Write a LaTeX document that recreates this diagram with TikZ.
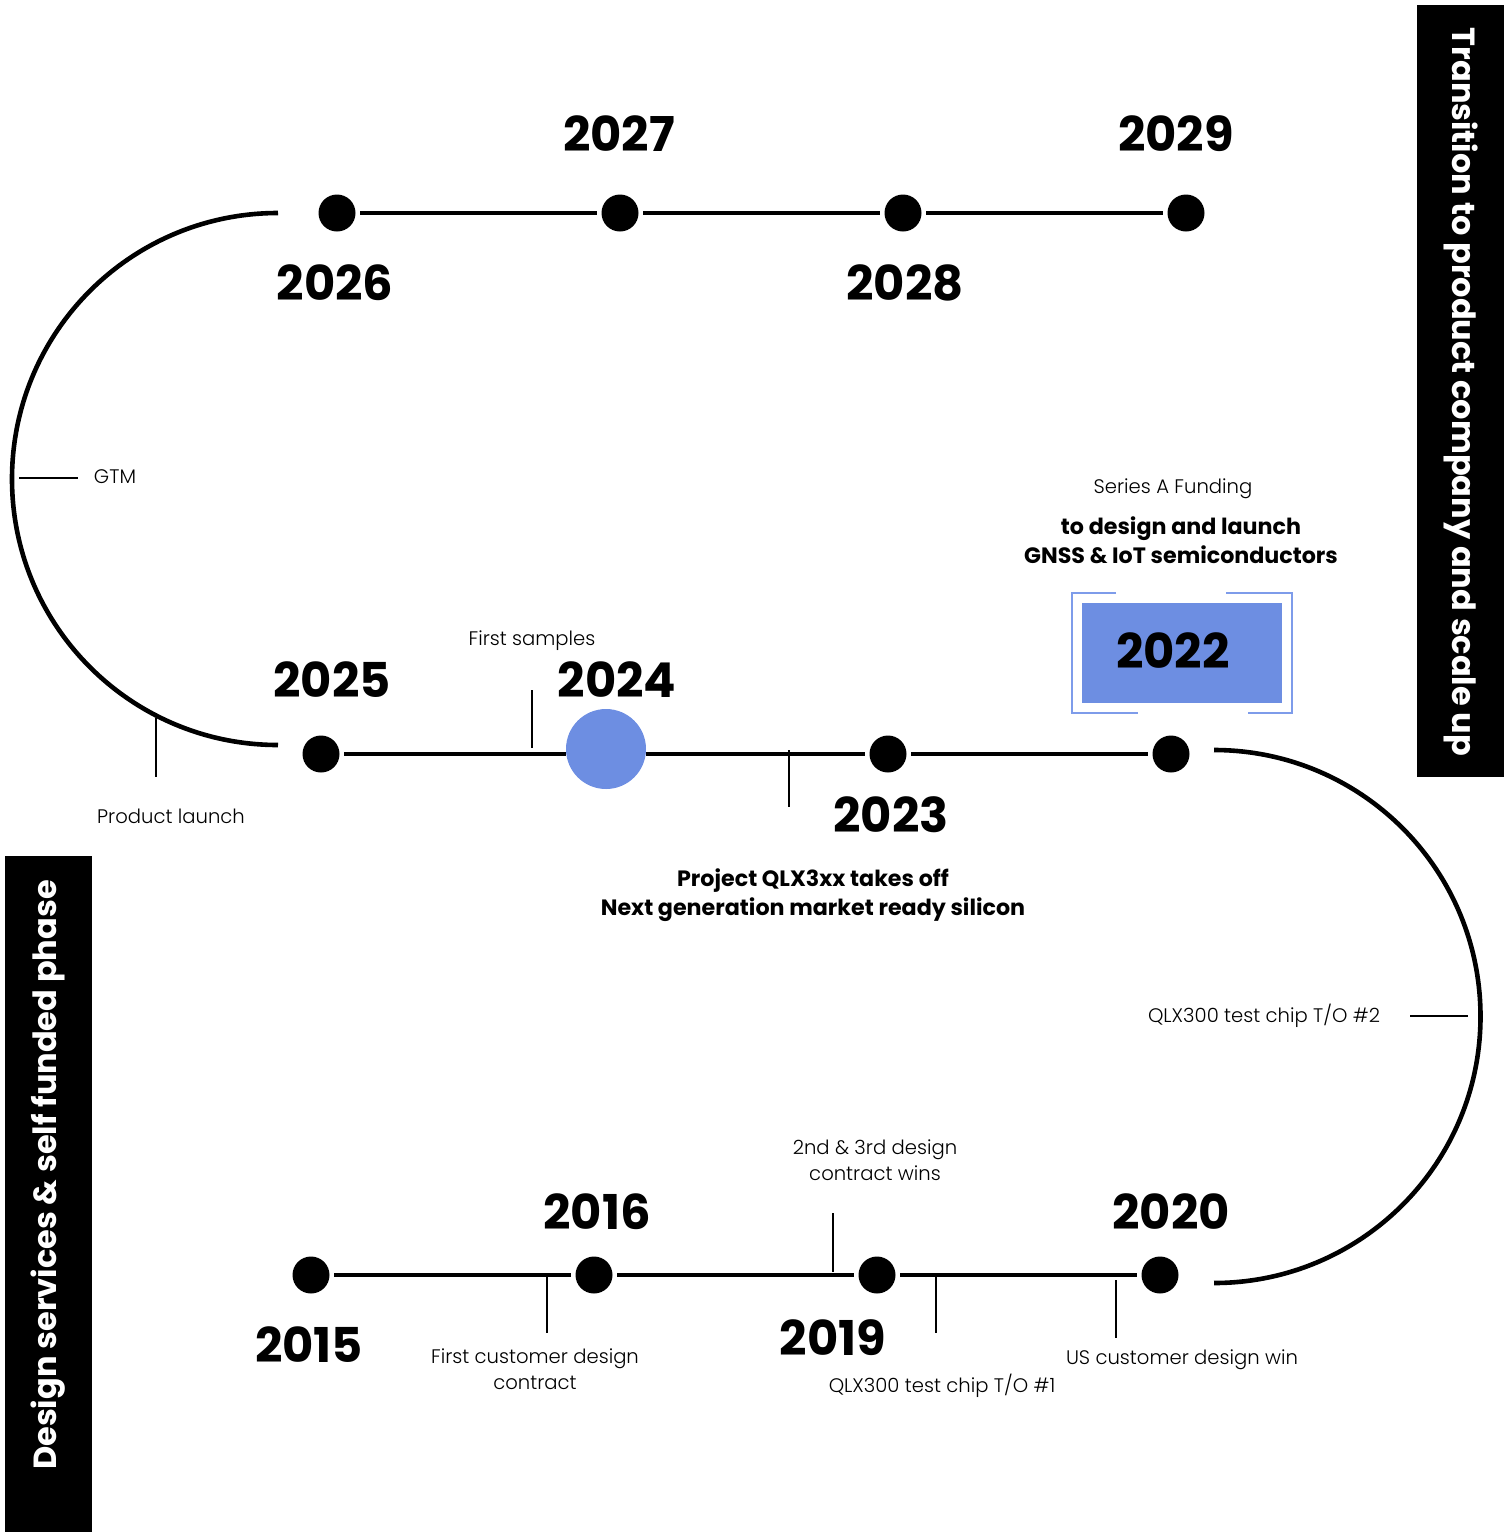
\documentclass[tikz,border=0pt]{standalone}
\usepackage{fontspec}
\setmainfont{Poppins}
\newfontfamily\lightfont{Poppins Light}
\usetikzlibrary{positioning}

\definecolor{qblue}{HTML}{6D8EE2}
\definecolor{qframe}{HTML}{7E9CEA}

\tikzset{
  dot/.style={circle, fill=black, minimum size=37pt, inner sep=0pt, outer sep=4.5pt},
  tl/.style={line width=4.6pt},
  tick/.style={line width=1.6pt},
  year/.style={font=\bfseries\fontsize{48}{48}\selectfont, inner sep=0pt},
  note/.style={font=\lightfont\fontsize{19.6}{26}\selectfont, align=center, inner sep=0pt},
  bnote/.style={font=\bfseries\fontsize{22.2}{29}\selectfont, align=center, inner sep=0pt},
  side/.style={text=white, font=\bfseries\fontsize{32}{32}\selectfont, inner sep=0pt}
}

\begin{document}
\begin{tikzpicture}[x=1pt, y=-1pt]
             \useasboundingbox (0,0) rectangle (1504,1532);

             \fill (1417,5) rectangle (1504,777);
             \node[side, rotate=-90] (phase2) at (1461,392) {Transition to product company and scale up};
             \fill (5,856) rectangle (92,1532);
             \node[side, rotate=90] (phase1) at (48,1175) {Design services \& self funded phase};

             \node[dot] (d26) at (337,213) {};
             \node[dot] (d27) at (620,213) {};
             \node[dot] (d28) at (903,213) {};
             \node[dot] (d29) at (1186,213) {};
             \draw[tl] (d26) -- (d27);
             \draw[tl] (d27) -- (d28);
             \draw[tl] (d28) -- (d29);
             \node[year] (y27) at (619,134) {2027};
             \node[year] (y29) at (1176,134) {2029};
             \node[year] (y26) at (335,283) {2026};
             \node[year] (y28) at (905,283) {2028};

             \coordinate (a26) at (278,213);
             \draw[tl] (a26) arc[start angle=-90, end angle=-270, radius=266];
             \draw[tick] (19,478) -- (78,478);
             \node[note] (gtm) at (115,477) {GTM};
             \draw[tick] (156,718) -- (156,777);
             \node[note] (launch) at (171,816) {Product launch};

             \node[dot] (d25) at (321,754) {};
             \node[circle, fill=qblue, minimum size=80pt, inner sep=0pt] (b24) at (606,749) {};
             \node[dot] (d23) at (888,754) {};
             \node[dot] (d22) at (1171,754) {};
             \draw[tl] (d25) -- (d25 -| b24.west);
             \draw[tl] (b24.east |- d23) -- (d23);
             \draw[tl] (d23) -- (d22);
             \node[year] (y25) at (332,680) {2025};
             \node[year] (y24) at (617,680) {2024};
             \node[year] (y23) at (891,815) {2023};
             \draw[tick] (532,690) -- (532,748);
             \node[note] (samples) at (532,641) {First samples};
             \draw[tick] (789,750) -- (789,807);
             \node[bnote] (qlx3) at (813,895) {Project QLX3xx takes off\\Next generation market ready silicon};

             \node[fill=qblue, minimum width=200pt, minimum height=100pt, inner sep=0pt] (box22) at (1182,653) {};
             \draw[qframe, line width=2.2pt] (1116,593) -| (1072,713) -- (1138,713);
             \draw[qframe, line width=2.2pt] (1226,593) -| (1292,713) -- (1248,713);
             \node[year] (y22) at (1173,651) {2022};
             \node[note] (series) at (1173,489) {Series A Funding};
             \node[bnote] (gnss) at (1181,540) {to design and launch\\GNSS \& IoT semiconductors};

             \coordinate (a22) at (1214,750);
             \draw[tl] (a22) arc[start angle=-90, end angle=90, radius=266.5];
             \draw[tick] (1410,1016) -- (1468,1016);
             \node[note] (to2) at (1264,1016) {QLX300 test chip T/O \#2};

             \node[dot] (d15) at (311,1275) {};
             \node[dot] (d16) at (594,1275) {};
             \node[dot] (d19) at (877,1275) {};
             \node[dot] (d20) at (1160,1275) {};
             \draw[tl] (d15) -- (d16);
             \draw[tl] (d16) -- (d19);
             \draw[tl] (d19) -- (d20);
             \node[year] (y16) at (597,1212) {2016};
             \node[year] (y20) at (1171,1212) {2020};
             \node[year] (y15) at (309,1345) {2015};
             \node[year] (y19) at (833,1338) {2019};

             \draw[tick] (547,1277) -- (547,1333);
             \node[note] (first) at (535,1369) {First customer design\\contract};
             \draw[tick] (833,1213) -- (833,1272);
             \node[note] (wins) at (875,1160) {2nd \& 3rd design\\contract wins};
             \draw[tick] (936,1277) -- (936,1333);
             \node[note] (to1) at (942,1386) {QLX300 test chip T/O \#1};
             \draw[tick] (1116,1280) -- (1116,1338);
             \node[note] (uswin) at (1182,1360) {US customer design win};
             \end{tikzpicture}
\end{document}
